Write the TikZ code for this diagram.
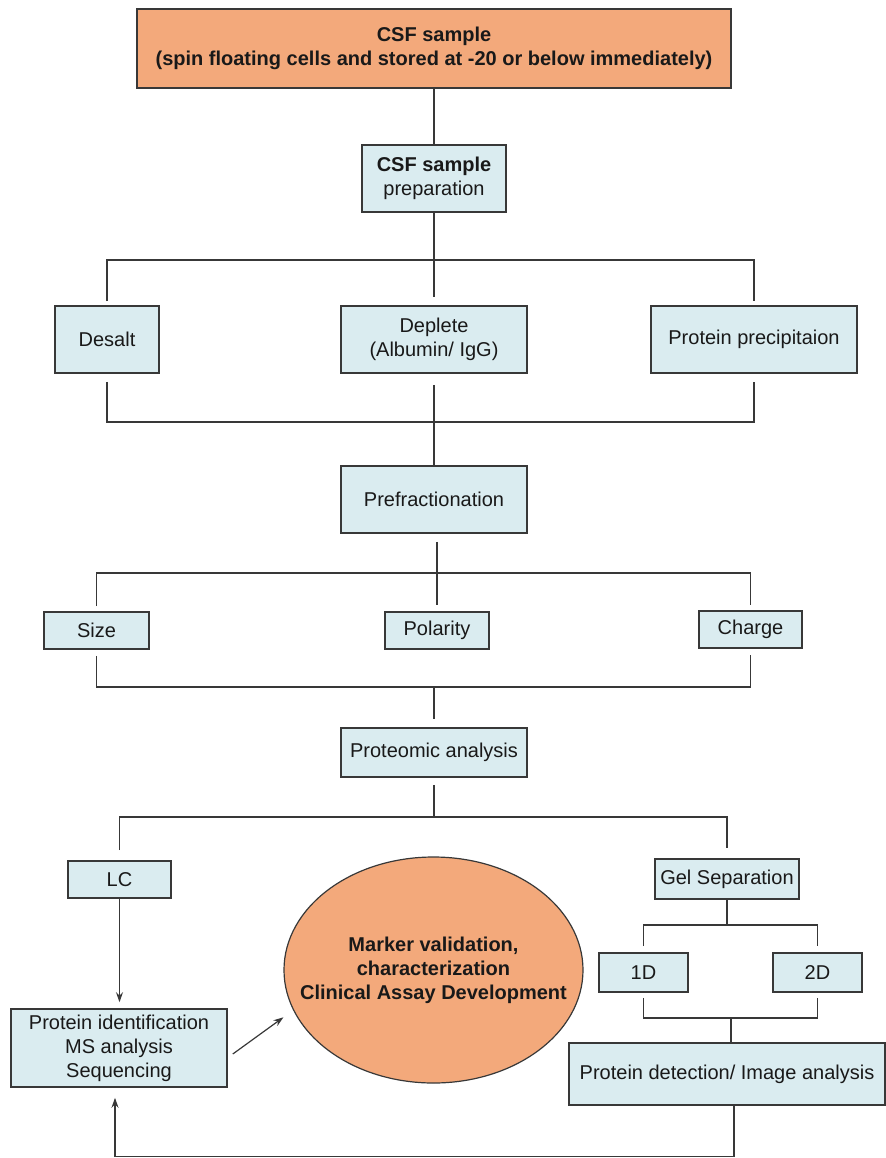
\documentclass[tikz,border=0pt]{standalone}
\usepackage{fontspec}
\setmainfont{Liberation Sans}
\usetikzlibrary{positioning, arrows.meta, shapes.geometric}
\definecolor{lachs}{HTML}{F3A97B}
\definecolor{eis}{HTML}{DAECF0}
\definecolor{rahmen}{HTML}{383838}

\begin{document}
\begin{tikzpicture}[x=0.5pt, y=-0.5pt,
      feld/.style={draw=rahmen, line width=0.8pt, fill=eis, text=black!90,
        align=center, inner sep=0pt, font=\fontsize{10}{12}\selectfont},
      kopf/.style={feld, fill=lachs, font=\fontsize{10}{12}\selectfont\bfseries},
      ziel/.style={ellipse, draw=rahmen, line width=0.6pt, fill=lachs, text=black!90,
        align=center, inner xsep=-16pt, inner ysep=0pt, font=\fontsize{10}{12}\selectfont\bfseries},
      ast/.style={draw=rahmen, line width=0.6pt},
      pfeil/.style={-{Stealth[length=5pt, width=3.5pt]}, rahmen, line width=0.6pt}]
    \useasboundingbox (0,0) rectangle (886,1158);
    \node[kopf, minimum width=297pt, minimum height=39.5pt] (probe) at (434,48.5)
      {CSF sample\\(spin floating cells and stored at -20 or below immediately)};
    \node[feld, minimum width=72pt, minimum height=33.5pt] (prep) at (434,178.5)
      {\textbf{CSF sample}\\preparation};
    \node[feld, minimum width=52pt, minimum height=33.5pt] (desalt) at (107,339.5) {Desalt};
    \node[feld, minimum width=93pt, minimum height=33.5pt] (deplete) at (434,339.5)
      {Deplete\\(Albumin/ IgG)};
    \node[feld, minimum width=103pt, minimum height=33.5pt] (precip) at (754,339.5)
      {Protein precipitaion};
    \node[feld, minimum width=93pt, minimum height=33.5pt] (prefrac) at (434,499.5)
      {Prefractionation};
    \node[feld, minimum width=52.5pt, minimum height=18.5pt] (size) at (96.5,630.5) {Size};
    \node[feld, minimum width=52pt, minimum height=18.5pt] (polarity) at (437,630.5) {Polarity};
    \node[feld, minimum width=51.5pt, minimum height=18.5pt] (charge) at (750.5,629.5) {Charge};
    \node[feld, minimum width=93pt, minimum height=24.5pt] (proteomic) at (434,752.5)
      {Proteomic analysis};
    \node[feld, minimum width=51.5pt, minimum height=18.5pt] (lc) at (119.5,879.5) {LC};
    \node[feld, minimum width=72pt, minimum height=20pt] (gel) at (727,879) {Gel Separation};
    \node[feld, minimum width=44.5pt, minimum height=19.5pt] (d1) at (643.5,972.5) {1D};
    \node[feld, minimum width=44.5pt, minimum height=19.5pt] (d2) at (817.5,972.5) {2D};
    \node[feld, minimum width=158pt, minimum height=31pt] (detect) at (727,1074)
      {Protein detection/ Image analysis};
    \node[feld, minimum width=108pt, minimum height=39pt] (ident) at (119,1048)
      {Protein identification\\MS analysis\\Sequencing};
    \node[ziel, minimum width=149.5pt, minimum height=113pt] (valid) at (433.5,970)
      {Marker validation,\\characterization\\Clinical Assay Development};
    \coordinate (gabel1) at (434,260);
    \coordinate (fuge1) at (434,422);
    \coordinate (gabel2) at (437,573);
    \coordinate (fuge2) at (434,687);
    \coordinate (gabel3) at (434,817);
    \coordinate (gabel4) at (727,925);
    \coordinate (fuge4) at (731,1018);
    \draw[ast] (probe) -- (prep);
    \draw[ast, shorten >=4pt] (prep) -- (deplete);
    \draw[ast] ([yshift=2pt]desalt.north) |- (gabel1) -| ([yshift=2pt]precip.north);
    \draw[ast] ([yshift=-4pt]desalt.south) |- (fuge1) -| ([yshift=-4pt]precip.south);
    \draw[ast] ([yshift=-5.5pt]deplete.south) -- (prefrac);
    \draw[ast] ([yshift=-4pt]polarity.north |- prefrac.south) -- ([yshift=3pt]polarity.north);
    \draw[ast] ([yshift=2.5pt]size.north) |- (gabel2) -| ([yshift=2.5pt]charge.north);
    \draw[ast] ([yshift=-3pt]size.south) |- (fuge2) -| ([yshift=-3pt]charge.south);
    \draw[ast, shorten >=4pt] (fuge2) -- (proteomic);
    \draw[ast] ([yshift=-3.5pt]proteomic.south) -- (gabel3);
    \draw[ast] ([yshift=5pt]lc.north) |- (gabel3) -| ([yshift=5pt]gel.north);
    \draw[ast] (gel) -- (gabel4);
    \draw[ast] ([yshift=3pt]d1.north) |- (gabel4) -| ([yshift=3pt]d2.north);
    \draw[ast] ([yshift=-2.5pt]d1.south) |- (fuge4) -| ([yshift=-2.5pt]d2.south);
    \draw[ast] (fuge4) -- (fuge4 |- detect.north);
    \draw[pfeil, shorten >=3pt] (lc.south) -- (lc.south |- ident.north);
    \draw[pfeil, shorten >=6pt] ([xshift=2.5pt, yshift=-3pt]ident.east) -- (valid.196);
    \draw[pfeil, shorten >=5pt] ([xshift=3.5pt]detect.south) -- ++(0,51) -| ([xshift=-2pt]ident.south);
  \end{tikzpicture}
\end{document}
